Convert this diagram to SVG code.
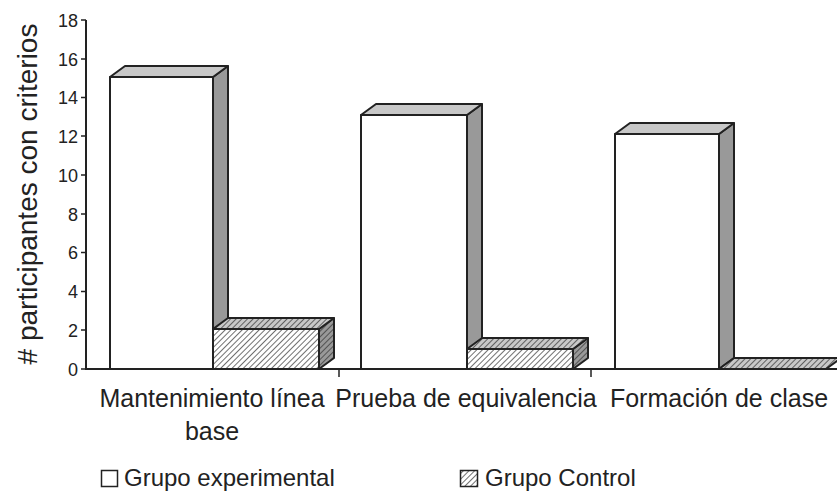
<svg xmlns="http://www.w3.org/2000/svg" width="837" height="492" viewBox="0 0 837 492">
<defs>
<pattern id="hW" width="4" height="4" patternUnits="userSpaceOnUse" patternTransform="rotate(45)">
<rect width="4" height="4" fill="#ffffff"/><line x1="0" y1="0" x2="0" y2="4" stroke="#333" stroke-width="1.4"/>
</pattern>
<pattern id="hL" width="4" height="4" patternUnits="userSpaceOnUse" patternTransform="rotate(45)">
<rect width="4" height="4" fill="#c8c8c8"/><line x1="0" y1="0" x2="0" y2="4" stroke="#333" stroke-width="1.4"/>
</pattern>
<pattern id="hD" width="4" height="4" patternUnits="userSpaceOnUse" patternTransform="rotate(45)">
<rect width="4" height="4" fill="#999"/><line x1="0" y1="0" x2="0" y2="4" stroke="#333" stroke-width="1.4"/>
</pattern>
</defs>
<style>
text{font-family:"Liberation Sans",Arial,sans-serif;fill:#222}
.tick{font-size:18px;text-anchor:end}
.cat{font-size:25px;text-anchor:middle}
.leg{font-size:24px}
.ax{stroke:#222;stroke-width:2;fill:none}
.f{stroke:#222;stroke-width:2;stroke-linejoin:round}
.front{fill:#fff}
.top{fill:#c8c8c8}
.side{fill:#999}
.hf{fill:url(#hW)}
.ht{fill:url(#hL)}
.hs{fill:url(#hD)}
</style>
<g id="axes">
<line class="ax" x1="86" y1="20" x2="86" y2="370"/>
<line class="ax" x1="85" y1="369" x2="837" y2="369"/>
<g stroke="#222" stroke-width="1.5">
<line x1="81" y1="20" x2="86" y2="20"/><line x1="81" y1="59" x2="86" y2="59"/><line x1="81" y1="97.5" x2="86" y2="97.5"/>
<line x1="81" y1="136" x2="86" y2="136"/><line x1="81" y1="175" x2="86" y2="175"/><line x1="81" y1="214" x2="86" y2="214"/>
<line x1="81" y1="252.5" x2="86" y2="252.5"/><line x1="81" y1="291.5" x2="86" y2="291.5"/><line x1="81" y1="330" x2="86" y2="330"/>
<line x1="81" y1="369" x2="86" y2="369"/>
<line x1="339" y1="369" x2="339" y2="377"/><line x1="591" y1="369" x2="591" y2="377"/>
</g>
<text class="tick" x="78" y="27">18</text>
<text class="tick" x="78" y="65.5">16</text>
<text class="tick" x="78" y="104">14</text>
<text class="tick" x="78" y="142.5">12</text>
<text class="tick" x="78" y="181.5">10</text>
<text class="tick" x="78" y="220.5">8</text>
<text class="tick" x="78" y="259">6</text>
<text class="tick" x="78" y="298">4</text>
<text class="tick" x="78" y="336.5">2</text>
<text class="tick" x="78" y="375.5">0</text>
<text transform="translate(37,194) rotate(-90)" style="font-size:28px;text-anchor:middle"># participantes con criterios</text>
</g>
<g id="bar-exp-1">
<polygon class="f side" points="213,77 228,66 228,358 213,369"/>
<polygon class="f top" points="110,77 213,77 228,66 125,66"/>
<rect class="f front" x="110" y="77" width="103" height="292"/>
</g>
<g id="bar-ctrl-1">
<polygon class="f hs" points="319,329 334,318 334,358 319,369"/>
<polygon class="f ht" points="213,329 319,329 334,318 228,318"/>
<rect class="f hf" x="213" y="329" width="106" height="40"/>
</g>
<g id="bar-exp-2">
<polygon class="f side" points="467,115 482,104 482,358 467,369"/>
<polygon class="f top" points="361,115 467,115 482,104 376,104"/>
<rect class="f front" x="361" y="115" width="106" height="254"/>
</g>
<g id="bar-ctrl-2">
<polygon class="f hs" points="573,349 588,338 588,358 573,369"/>
<polygon class="f ht" points="467,349 573,349 588,338 482,338"/>
<rect class="f hf" x="467" y="349" width="106" height="20"/>
</g>
<g id="bar-exp-3">
<polygon class="f side" points="719,134 734,123 734,358 719,369"/>
<polygon class="f top" points="615,134 719,134 734,123 630,123"/>
<rect class="f front" x="615" y="134" width="104" height="235"/>
</g>
<g id="bar-ctrl-3">
<polygon class="f ht" points="719,369 826,369 841,358 734,358"/>
</g>
<g id="labels">
<text class="cat" x="212" y="407">Mantenimiento línea</text>
<text class="cat" x="212" y="440">base</text>
<text class="cat" x="466" y="407">Prueba de equivalencia</text>
<text class="cat" x="719" y="407">Formación de clase</text>
</g>
<g id="legend">
<rect x="101.5" y="470.5" width="16" height="16" fill="#fff" stroke="#222" stroke-width="1.5"/>
<text class="leg" x="124" y="486">Grupo experimental</text>
<rect x="460.5" y="470.5" width="17" height="16" fill="url(#hW)" stroke="#222" stroke-width="1.5"/>
<text class="leg" x="485" y="486">Grupo Control</text>
</g>
</svg>
